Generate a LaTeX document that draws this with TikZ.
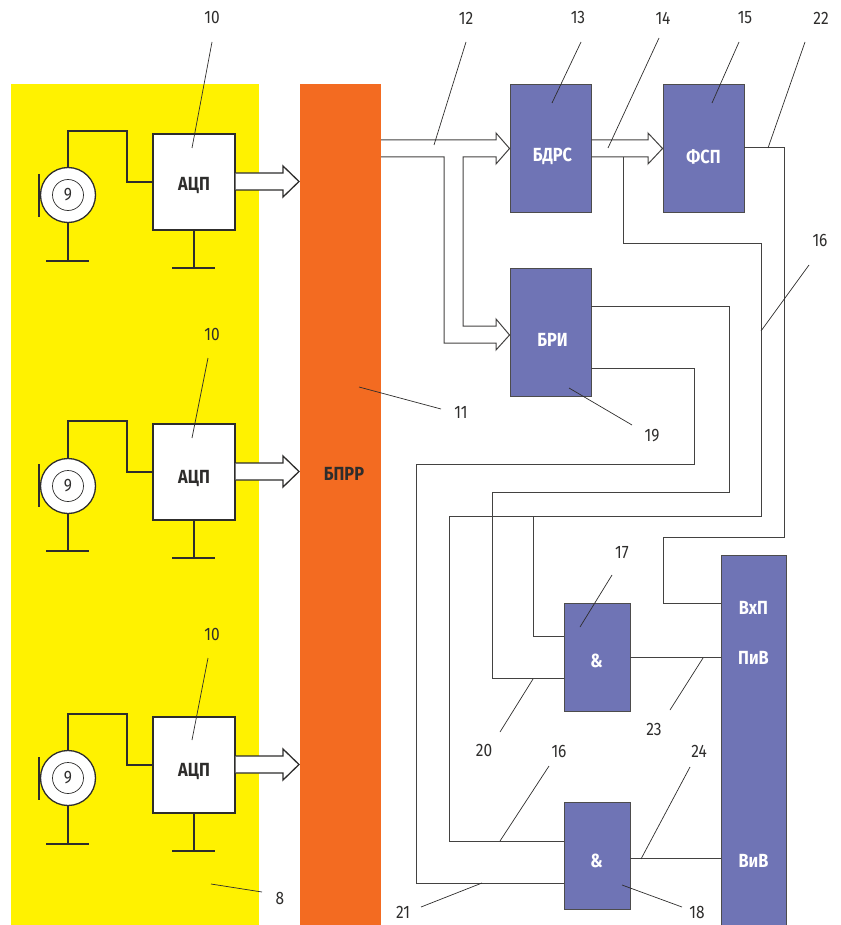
\documentclass[tikz,border=0pt]{standalone}
\usepackage{fontspec}
\setmainfont[FakeStretch=0.86]{Fira Sans}
\definecolor{panelyellow}{HTML}{FFF200}
\definecolor{panelorange}{HTML}{F36B21}
\definecolor{blockblue}{HTML}{6F74B5}
\definecolor{inkgray}{HTML}{2E2D2C}
\tikzset{
  whitebox/.style={draw=inkgray, fill=white, line width=1.3pt, minimum width=82pt, minimum height=96pt, inner sep=0pt},
  bluebox/.style={draw=inkgray!85, fill=blockblue, line width=0.9pt, inner sep=0pt},
  panel/.style={inner sep=0pt, outer sep=0pt},
  mic/.style={circle, draw=inkgray, fill=white, line width=1.3pt, minimum size=55pt, inner sep=0pt},
  micdigit/.style={circle, draw=inkgray, line width=0.7pt, minimum size=31pt, inner sep=0pt, text=inkgray, font=\fontsize{18}{18}\selectfont},
  thickwire/.style={draw=inkgray, line width=1.3pt},
  wire/.style={draw=inkgray!90, line width=1pt},
  leader/.style={draw=inkgray, line width=0.7pt},
  num/.style={inner sep=0pt, text=inkgray, font=\fontsize{18}{18}\selectfont},
  darklabel/.style={inner sep=0pt, xshift=1pt, yshift=-0.5pt, text=inkgray, font=\fontsize{19}{19}\selectfont\bfseries},
  whitelabel/.style={inner sep=0pt, xshift=0.5pt, yshift=-0.5pt, text=white, font=\fontsize{19}{19}\selectfont\bfseries}
}
\begin{document}
\begin{tikzpicture}[x=1pt, y=-1pt]

\useasboundingbox (0,0) rectangle (840,925);

\node[panel, fill=panelyellow, minimum width=248pt, minimum height=841pt] (sensors) at (135,504.5) {};
\node[panel, fill=panelorange, minimum width=81pt, minimum height=841pt] (bprr) at (340.5,504.5) {};
\node[darklabel] (bprrtext) at (343,473) {БПРР};

\node[whitebox] (adc1) at (194,182) {};
\node[whitebox] (adc2) at (194,472) {};
\node[whitebox] (adc3) at (194,765) {};
\node[darklabel] (adc1text) at (193,185) {АЦП};
\node[darklabel] (adc2text) at (193,478) {АЦП};
\node[darklabel] (adc3text) at (193,771) {АЦП};

\node[mic] (mic1) at (68,195) {};
\node[mic] (mic2) at (68,486) {};
\node[mic] (mic3) at (68,778) {};
\node[micdigit] (digit1) at (68,195) {9};
\node[micdigit] (digit2) at (68,486) {9};
\node[micdigit] (digit3) at (68,778) {9};

\draw[thickwire] (mic1.north) |- (127,131) |- (adc1.west |- 0,182);
\draw[thickwire] (mic2.north) |- (127,421) |- (adc2.west |- 0,472);
\draw[thickwire] (mic3.north) |- (127,714) |- (adc3.west |- 0,765);

\coordinate (gnd1) at (68,261);
\coordinate (gnd2) at (68,551);
\coordinate (gnd3) at (68,844);
\draw[thickwire] (mic1.south) -- (gnd1) (46,261) -- (89,261);
\draw[thickwire] (mic2.south) -- (gnd2) (46,551) -- (89,551);
\draw[thickwire] (mic3.south) -- (gnd3) (46,844) -- (89,844);

\coordinate (gnd4) at (194,268);
\coordinate (gnd5) at (194,558);
\coordinate (gnd6) at (194,851);
\draw[thickwire] (adc1.south) -- (gnd4) (172,268) -- (215,268);
\draw[thickwire] (adc2.south) -- (gnd5) (172,558) -- (215,558);
\draw[thickwire] (adc3.south) -- (gnd6) (172,851) -- (215,851);

\draw[thickwire] (39,174) -- (39,217);
\draw[thickwire] (39,464) -- (39,507);
\draw[thickwire] (39,757) -- (39,800);

\draw[thickwire, fill=white] (adc1.east |- 0,173) -- (283,173) -- (283,166) -- (299,181.5) -- (283,197) -- (283,190) -- (adc1.east |- 0,190);
\draw[thickwire, fill=white] (adc2.east |- 0,463) -- (283,463) -- (283,456) -- (299,471.5) -- (283,487) -- (283,480) -- (adc2.east |- 0,480);
\draw[thickwire, fill=white] (adc3.east |- 0,756) -- (283,756) -- (283,749) -- (299,764.5) -- (283,780) -- (283,773) -- (adc3.east |- 0,773);

\node[bluebox, minimum width=81pt, minimum height=128pt] (bdrs) at (550.5,148) {};
\node[bluebox, minimum width=81pt, minimum height=128pt] (bri) at (550.5,332) {};
\node[bluebox, minimum width=81pt, minimum height=128pt] (fsp) at (703.5,148) {};
\node[bluebox, minimum width=66pt, minimum height=108pt] (and1) at (597,657) {};
\node[bluebox, minimum width=66pt, minimum height=107pt] (and2) at (597,855.5) {};
\node[bluebox, minimum width=65pt, minimum height=370pt] (outputs) at (753.5,740) {};

\node[whitelabel] (bdrstext) at (552,156) {БДРС};
\node[whitelabel] (britext) at (552,339) {БРИ};
\node[whitelabel] (fsptext) at (703,156) {ФСП};
\node[whitelabel] (and1text) at (596,660) {\&};
\node[whitelabel] (and2text) at (596,860) {\&};
\node[whitelabel] (vxptext) at (753,607) {ВхП};
\node[whitelabel] (pivtext) at (753,657) {ПиВ};
\node[whitelabel] (vivtext) at (753,860) {ВиВ};

\draw[wire] (bprr.east |- 0,140) -- (496,140) -- (496,133) -- (bdrs.west |- 0,148.5) -- (496,164) -- (496,157) -- (463,157) -- (463,326) -- (496,326) -- (496,319) -- (bri.west |- 0,335) -- (496,350) -- (496,343) -- (444,343) -- (444,157) -- (bprr.east |- 0,157);
\draw[wire] (bdrs.east |- 0,140) -- (648,140) -- (648,133) -- (fsp.west |- 0,148.5) -- (648,164) -- (648,157) -- (bdrs.east |- 0,157);

\coordinate (branch1) at (623,157);
\coordinate (branch2) at (533,516);
\draw[wire] (branch1) -- (623,243) -- (761,243) -- (761,516) -- (449,516) -- (449,841) -- (and2.west |- 0,841);
\draw[wire] (branch2) -- (533,636) -- (and1.west |- 0,636);
\draw[wire] (bri.east |- 0,306) -- (729,306) -- (729,492) -- (492,492) -- (492,678) -- (and1.west |- 0,678);
\draw[wire] (bri.east |- 0,368) -- (694,368) -- (694,464) -- (416,464) -- (416,883) -- (and2.west |- 0,883);
\draw[wire] (fsp.east |- 0,148) -- (784,148) -- (784,537) -- (663,537) -- (663,603.5) -- (outputs.west |- 0,603.5);
\draw[wire] (and1.east |- 0,657) -- (outputs.west |- 0,657);
\draw[wire] (and2.east |- 0,858) -- (outputs.west |- 0,858);

\node[num] (n10a) at (212,18) {10};
\node[num] (n10b) at (212,334) {10};
\node[num] (n10c) at (212,634) {10};
\node[num] (n12) at (466,18) {12};
\node[num] (n13) at (578,18) {13};
\node[num] (n14) at (663,18) {14};
\node[num] (n15) at (745,18) {15};
\node[num] (n22) at (821,18) {22};
\node[num] (n16a) at (820,240) {16};
\node[num] (n11) at (461,412) {11};
\node[num] (n19) at (652,436) {19};
\node[num] (n17) at (622,553) {17};
\node[num] (n20) at (484,750) {20};
\node[num] (n23) at (654,729) {23};
\node[num] (n16b) at (559,751) {16};
\node[num] (n24) at (699,751) {24};
\node[num] (n21) at (403,912) {21};
\node[num] (n18) at (697,912) {18};
\node[num] (n8) at (280,898) {8};

\coordinate (t10a) at (192,148);
\coordinate (t10b) at (192,438);
\coordinate (t10c) at (192,740);
\coordinate (t12) at (434,145);
\coordinate (t13) at (552,103);
\coordinate (t14) at (608,148);
\coordinate (t15) at (712,103);
\coordinate (t22) at (768,148);
\coordinate (t16a) at (761,331);
\coordinate (t11) at (359,387);
\coordinate (t19) at (569,388);
\coordinate (t17) at (580,627);
\coordinate (t20) at (533,679);
\coordinate (t23) at (703,658);
\coordinate (t16b) at (500,841);
\coordinate (t24) at (641,859);
\coordinate (t21) at (482,883);
\coordinate (t18) at (622,885);
\coordinate (t8) at (211,884);

\draw[leader] (212,42) -- (t10a);
\draw[leader] (208,358) -- (t10b);
\draw[leader] (208,658) -- (t10c);
\draw[leader] (466,42) -- (t12);
\draw[leader] (581,42) -- (t13);
\draw[leader] (659,38) -- (t14);
\draw[leader] (739,42) -- (t15);
\draw[leader] (805,42) -- (t22);
\draw[leader] (809,265) -- (t16a);
\draw[leader] (441,409) -- (t11);
\draw[leader] (632,425) -- (t19);
\draw[leader] (612,575) -- (t17);
\draw[leader] (500,732) -- (t20);
\draw[leader] (670,710) -- (t23);
\draw[leader] (549,766) -- (t16b);
\draw[leader] (690,767) -- (t24);
\draw[leader] (421,907) -- (t21);
\draw[leader] (682,907) -- (t18);
\draw[leader] (262,892) -- (t8);

\end{tikzpicture}
\end{document}
